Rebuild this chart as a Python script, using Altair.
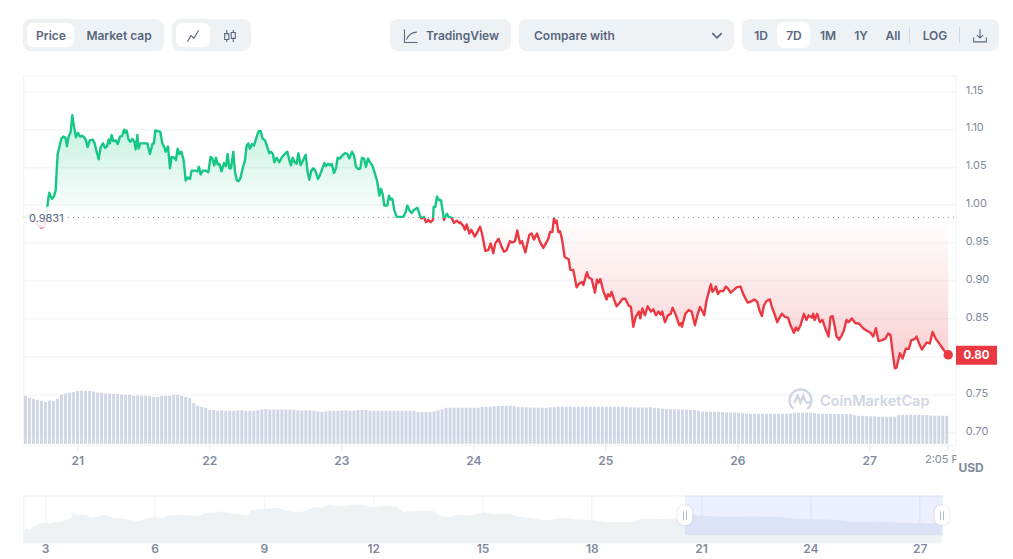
import altair as alt
import pandas as pd

# ---------- price series: hours since day 21 00:00, and price in USD ----------
hours_a = [-9.69,-8.9,-8.0,-7.39,-6.66,-6.06,-5.69,-5.45,-5.27,-5.09,-4.85,-4.6,-4.24,-3.94,-3.75,-3.57,-3.27,-2.9,-2.54,-2.18,-1.88,-1.57,-1.21,-.91,-.6,-.24,.12,.49,.85,1.22,1.52,1.88,2.25,2.79,3.15,3.52,3.88,4.25,4.67,5.03,5.4,5.7,5.94,6.25,6.55,6.97,7.34,7.76,8.18,8.49,8.73,8.97,9.28,9.64,10.0,10.37,10.61,10.91,11.15,11.46,11.82,12.24,12.73,13.21,13.7,13.94,14.18,14.67,15.09,15.46,15.82,16.06,16.49,16.85,17.15,17.64,17.94,18.24,18.55,18.91,19.33,19.7,20.06,20.49,20.79,21.4,21.82,22.12,22.43,22.79,23.27,23.82,24.24,24.55,24.91,25.21,25.52,25.82,26.24,26.67,27.03,27.33,27.64,27.94,28.36,28.67,29.03,29.33,29.7,30.06,30.49,30.79,31.09,31.39,31.76,32.12,32.49]
prices_a = [.983,.985,.984,.975,.970,.971,.979,.997,1.008,1.016,1.011,1.008,1.011,1.019,1.045,1.067,1.076,1.087,1.09,1.089,1.077,1.09,1.096,1.118,1.103,1.089,1.095,1.09,1.091,1.089,1.086,1.076,1.085,1.086,1.081,1.070,1.06,1.076,1.081,1.075,1.077,1.086,1.081,1.092,1.084,1.085,1.08,1.09,1.091,1.099,1.095,1.098,1.087,1.083,1.087,1.083,1.073,1.092,1.074,1.081,1.081,1.081,1.081,1.067,1.081,1.081,1.098,1.097,1.096,1.081,1.076,1.070,1.077,1.048,1.063,1.062,1.059,1.074,1.067,1.070,1.059,1.032,1.036,1.034,1.045,1.045,1.044,1.05,1.040,1.045,1.045,1.043,1.063,1.061,1.052,1.062,1.053,1.054,1.044,1.055,1.051,1.067,1.048,1.048,1.070,1.043,1.032,1.031,1.036,1.048,1.059,1.078,1.081,1.074,1.080,1.078,1.087]
hours_b = [32.97,33.34,33.7,34.13,34.55,34.91,35.22,35.58,35.82,36.25,36.73,37.22,37.76,38.19,38.55,38.85,39.15,39.52,39.88,40.19,40.61,41.09,41.52,41.88,42.18,42.55,42.91,43.28,43.76,44.12,44.61,44.91,45.21,45.58,45.94,46.25,46.67,47.03,47.34,47.76,48.18,48.67,49.09,49.46,49.94,50.31,50.67,51.09,51.46,51.76,52.12,52.49,52.85,53.21,53.64,54.12,54.55,54.91,55.21,55.52,55.82,56.37,56.67,56.97,57.27,57.64,58.06,58.67,59.27,59.7,60.0,60.36,60.79,61.21,61.82,62.12,62.49,63.03,63.39,63.82,64.24,64.67,64.79,65.09,65.39,65.76,66.12,66.67,66.91,67.21,67.52,68.06,68.49,68.97,69.45]
prices_b = [1.097,1.097,1.087,1.085,1.076,1.068,1.070,1.067,1.056,1.062,1.056,1.063,1.067,1.070,1.059,1.052,1.062,1.056,1.054,1.068,1.052,1.059,1.066,1.043,1.033,1.045,1.048,1.045,1.034,1.039,1.049,1.055,1.051,1.054,1.052,1.054,1.042,1.048,1.062,1.061,1.065,1.068,1.067,1.061,1.070,1.065,1.050,1.047,1.048,1.062,1.061,1.050,1.061,1.056,1.052,1.041,1.030,1.012,1.021,1.014,.999,.999,1.012,1.007,1.008,.993,.984,.984,.984,.990,.999,.993,.989,.993,.996,.990,.982,.984,.977,.980,.977,.980,.997,.997,1.011,1.006,1.006,.980,.984,.988,.984,.983,.976,.979,.976]
hours_c = [69.58,70.19,70.49,70.79,71.28,71.64,72.25,72.61,73.22,73.58,74.19,74.73,75.16,75.64,76.0,76.61,77.16,77.58,78.06,78.67,79.03,79.58,80.0,80.49,80.85,81.46,82.18,82.61,83.03,83.58,84.12,84.73,85.64,85.94,86.37,86.67,86.91,87.15,87.46,87.76,88.12,88.61,89.34,89.64,90.18,90.79,91.27,91.76,92.0,92.67,92.97,93.52,94.12,94.49,94.79,95.09,95.64,96.24,96.49,96.85,97.15,97.64,98.06,98.55,99.15,99.64,100.24,100.67,101.09,101.52,102.12,102.36,102.73,103.21,103.7,104.3,104.73,105.21,105.64,106.06,106.36,106.85,107.39,107.88,108.24,108.85,109.45,109.82,109.94,110.55,111.15,111.7,112.3,112.73,113.21]
prices_c = [.977,.972,.967,.974,.962,.967,.958,.962,.971,.962,.939,.940,.949,.936,.949,.955,.944,.938,.940,.952,.950,.952,.966,.949,.952,.937,.960,.962,.954,.962,.951,.943,.955,.964,.964,.982,.976,.979,.964,.965,.955,.931,.928,.914,.914,.891,.896,.898,.894,.911,.904,.902,.884,.901,.897,.902,.886,.875,.882,.879,.885,.874,.866,.870,.876,.876,.867,.865,.839,.852,.859,.850,.863,.854,.866,.859,.862,.854,.859,.855,.859,.845,.854,.856,.864,.854,.841,.844,.839,.856,.861,.859,.841,.854,.865]
hours_d = [113.56,113.99,114.41,114.9,115.2,115.5,115.93,116.11,116.47,116.84,117.44,117.93,118.35,118.78,119.26,119.87,120.59,121.08,121.87,122.41,123.08,123.62,124.11,124.47,124.84,125.32,125.93,126.29,126.77,127.26,127.62,128.11,128.65,129.2,129.68,130.29,130.65,131.02,131.5,132.11,132.59,132.96,133.56,133.8,134.05,134.53,135.02,135.5,135.99,136.59,136.96,137.32,137.68,138.05,138.53,139.02,139.38,139.86,140.23,140.83,141.44,142.17,142.89,143.5,144.23,144.71,145.2,145.68,146.17,146.89,147.44,147.86,148.35,148.65,148.95,149.56,150.04,150.65,151.2,151.62,152.29,152.59,152.95,153.56,154.41,155.01,155.5,156.1,156.71,157.19,157.56,158.35]
prices_d = [.861,.854,.874,.887,.895,.885,.889,.892,.882,.886,.886,.892,.889,.884,.887,.891,.892,.882,.871,.872,.875,.872,.859,.853,.867,.873,.875,.865,.856,.845,.850,.856,.852,.851,.841,.831,.838,.834,.841,.856,.848,.854,.851,.856,.848,.856,.845,.848,.837,.826,.852,.853,.841,.826,.822,.828,.834,.848,.845,.850,.844,.843,.837,.834,.831,.826,.837,.820,.821,.823,.830,.828,.799,.784,.785,.804,.797,.810,.810,.821,.823,.826,.819,.809,.818,.817,.832,.823,.817,.812,.808,.802]

# ---------- volume bars (same hours axis, regular step) ----------
vol_start = -9.42
vol_step = 0.7283
volumes = [48,46,45,44,43,42,43.3,43,45,49,50.3,51,51.7,53,53,53,53,52.3,51.3,51,50.3,50,50,50,49.3,49,49,48,48.3,48,48,47.7,47,47,48,48,48,49,49,48,47,45.7,40.7,38,37,36,34,33.7,33,
 33.3,33,33,33,33.3,33.5,33,33,33,33.5,34.3,34.7,
 34.3,34.3,34.3,34.3,34.3,34.3,34,33.3,33.3,33.5,33.5,33,32.3,32,32.5,33,33,33,33.3,33.3,33,33.3,33.7,34,34,
 33,33,33,33,33,33,33,33,33,33,33,33,31.7,31.7,31.7,31.7,32.3,33.3,34.5,36,36,36,36,36,36,36,36,36,37,37,
 37.3,37.5,38,38,38,38,37.5,37,36.7,36.5,36.3,36,36,36,36,
 36.5,36.7,37,37,37,37,37,37,37,37,37,37,37,37,37,37,37,37,37,36.7,36.5,36.5,36.3,
 36.3,36.3,36.5,36,35.5,35,34.7,34.7,34.5,34.5,34.3,34,
 34,34,33,32.3,32,32,32,32,31.7,31.5,
 31.3,31.3,31,30.7,30.3,30,30,30,30,30,30,30,30,30,30,
 30.3,31,31,31,31,31,30.8,30,
 30,30,30,29.8,29.7,29.7,29.7,29.7,
 28.5,28,28,27.7,27.5,27.3,27,27,27,27,27,28.5,
 29,29,29,29,29,28.7,28.7,28.3,28,28,28,28]

# ---------- navigator: day of month and price ----------
nav_days = [2.40,2.49,2.58,2.67,2.76,2.85,2.95,3.04,3.13,3.27,3.40,3.59,3.70,3.77,3.86,4.00,4.13,4.27,4.41,4.59,4.73,4.91,5.14,5.37,5.55,5.78,6.01,6.24,6.42,6.70,6.97,7.25,7.38,7.61,7.79,7.98,8.25,8.57,8.64,8.98,9.35,9.53,9.81,10.08,10.40,10.58,10.77,11.0,11.27,11.55,11.82,12.0,12.37,12.64,12.83,12.96,13.10,13.28,13.65,13.83,14.11,14.34,14.56,14.79,15.02,15.30,15.48,15.75,16.03,16.39,16.76,17.22,17.68,18.04,18.41,19.14,19.41,19.87,20.33,20.51,20.79,21.34,21.88,22.43,23.07,23.71,24.63,25.18,25.82,26.46,27.0,27.60]
nav_prices = [.515,.579,.515,.670,.709,.800,.826,.826,.774,.839,.839,.930,.969,1.215,1.111,1.137,1.124,1.007,1.033,1.111,1.085,.981,.969,.904,.865,.981,1.020,.981,1.098,1.124,1.098,1.085,1.189,1.202,1.254,1.189,1.163,1.098,1.306,1.345,1.397,1.319,1.241,1.241,1.422,1.397,1.513,1.448,1.474,1.526,1.474,1.422,1.487,1.422,1.228,1.267,1.228,1.293,1.267,1.085,1.033,1.137,1.085,1.137,1.215,1.150,1.163,1.163,1.033,.969,.904,1.007,.930,.904,.839,.839,.969,.956,.969,1.098,1.098,1.059,1.033,1.059,1.033,.943,.930,.839,.852,.813,.800,.774]

base_price = 0.9831
y_ticks = [0.70,0.75,0.80,0.85,0.90,0.95,1.00,1.05,1.10,1.15]
day_ticks = [0,24,48,72,96,120,144,158.1]
nav_ticks = [3,6,9,12,15,18,21,24,27]

GREEN, RED = "#16c784", "#ea3943"
GRID, LABEL, TEXT, PILL = "#eff2f5", "#808a9d", "#58667e", "#eff2f5"
FONT = "Inter"

hours = hours_a + hours_b + hours_c + hours_d
prices = prices_a + prices_b + prices_c + prices_d
price_df = pd.DataFrame({"h": hours, "p": prices, "base": base_price})
vol_df = pd.DataFrame({"h": [vol_start + vol_step * i for i in range(len(volumes))], "v": volumes})
nav_df = pd.DataFrame({"d": nav_days, "p": nav_prices})
one = pd.DataFrame({"k": [0]})

# main plot sits at page px (23.3, 75.5)
OFFX, OFFY = 1.0, 1.0      # the page puts everything this far in beyond the plain margin
MX, MY = 23.3, 75.5
MW, MH = 932.4, 369.5
x_scale = alt.Scale(domain=[-9.82, 159.71], nice=False, zero=False, padding=0)
y_scale = alt.Scale(domain=[0.6832, 1.1708], nice=False, zero=False)
v_scale = alt.Scale(domain=[-1, 368.5], nice=False, zero=False)

top, bot = max(prices), min(prices)
cut = (top - base_price) / (top - bot)
line_grad = alt.Gradient(gradient="linear", x1=0, x2=0, y1=0, y2=1, stops=[
    alt.GradientStop(color=GREEN, offset=0), alt.GradientStop(color=GREEN, offset=cut),
    alt.GradientStop(color=RED, offset=cut), alt.GradientStop(color=RED, offset=1)])
area_grad = alt.Gradient(gradient="linear", x1=0, x2=0, y1=0, y2=1, stops=[
    alt.GradientStop(color="rgba(22,199,132,0.27)", offset=0),
    alt.GradientStop(color="rgba(22,199,132,0)", offset=cut),
    alt.GradientStop(color="rgba(234,57,67,0)", offset=cut),
    alt.GradientStop(color="rgba(234,57,67,0.25)", offset=1)])

X = alt.X("h:Q", scale=x_scale, title=None, axis=alt.Axis(
    values=day_ticks, grid=False, domain=False, tickColor="#dfe3ea", tickSize=5, labelPadding=6,
    labelExpr="datum.value > 150 ? '' : format(21 + datum.value / 24, 'd')",
    labelColor=LABEL, labelFont=FONT, labelFontSize=12, labelFontWeight=600, labelOverlap=False))
Y_price = alt.Y("p:Q", scale=y_scale, title=None, axis=alt.Axis(
    orient="right", values=y_ticks, grid=True, gridColor=GRID, domain=False,
    labelExpr="abs(datum.value - 0.8) < 0.001 ? '' : format(datum.value, '.2f')",
    ticks=False, labelPadding=9.5, labelOffset=-1, labelColor=LABEL, labelFont=FONT, labelFontSize=11, labelOverlap=False))
Y_plain = alt.Y("p:Q", scale=y_scale, title=None, axis=None)

def vx(px): return alt.value(px - MX)
def vy(py): return alt.value(py - MY)

def rect_m(x0, x1, y0, y1, color, radius=0, opacity=1):
    return alt.Chart(one).mark_rect(color=color, cornerRadius=radius, opacity=opacity).encode(
        x=vx(x0), x2=vx(x1), y=vy(y0), y2=vy(y1))

def text_m(s, x, y, size=12, color=LABEL, weight=400, align="left"):
    return alt.Chart(one).mark_text(font=FONT, fontSize=size, color=color, fontWeight=weight,
                                    align=align, baseline="middle").encode(
        x=vx(x), y=vy(y), text=alt.value(s))

bars = alt.Chart(vol_df).mark_bar(size=3, color="#cfd6e4").encode(
    x=X, y=alt.Y("v:Q", scale=v_scale, title=None, axis=None), y2=alt.Y2(datum=0))
area = alt.Chart(price_df).mark_area(color=area_grad).encode(x=X, y=Y_price, y2=alt.Y2("base:Q"))
dots = alt.Chart(pd.DataFrame({"y": [base_price]})).mark_rule(
    color="#8a94a6", strokeDash=[1, 4], strokeWidth=1).encode(
    x=vx(68), x2=vx(955.7), y=alt.Y("y:Q", scale=y_scale, title=None, axis=None))
line = alt.Chart(price_df).mark_line(color=line_grad, strokeWidth=2.4, strokeJoin="round").encode(
    x=X, y=Y_plain)
end_dot = alt.Chart(price_df.tail(1)).mark_circle(color=RED, size=90, opacity=1).encode(
    x=X, y=Y_plain)

LOGO = ("M-0.62,0.8 A1,1 0 1,1 0.62,0.8 "
        "M-0.6,0.25 L-0.25,-0.42 L0,0.2 L0.25,-0.42 L0.45,0.1 Q0.55,0.35 0.95,0.12")
logo = alt.Chart(one).mark_point(shape=LOGO, filled=False, color="#cfd6e4", size=480, strokeWidth=2.4, opacity=1).encode(
    x=vx(800.5), y=vy(400.5))

main = alt.layer(
    bars, area, dots, line, end_dot,
    rect_m(24, 68, 207, 228, "white", 4, 0.88),
    text_m("0.9831", 29, 219, 11, TEXT, 400),
    logo,
    text_m("CoinMarketCap", 820, 402, 14.5, "#cfd6e4", 600),
    rect_m(956, 997, 346, 365, RED),
    text_m("0.80", 976.5, 356, 11.5, "white", 700, "center"),
    text_m("2:05 P", 925, 460, 11, LABEL, 400),
    rect_m(956.5, 963, 452, 467, "white"),
    text_m("USD", 958.5, 468.5, 12, LABEL, 700),
).resolve_scale(y="independent").properties(width=MW, height=MH, view=alt.ViewConfig(stroke=GRID))

# ---------- toolbar (page px) ----------
TX, TY = 23.3, 8 + OFFY
SPACING = 50.3

def tr(x0, x1, y0, y1, color, radius=8):
    return alt.Chart(one).mark_rect(color=color, cornerRadius=radius).encode(
        x=alt.value(x0 - TX), x2=alt.value(x1 - TX), y=alt.value(y0 - TY), y2=alt.value(y1 - TY))

def tt(s, x, y=35.5, align="center", size=12):
    return alt.Chart(one).mark_text(font=FONT, fontSize=size, color=TEXT, fontWeight=600,
                                    align=align, baseline="middle").encode(
        x=alt.value(x - TX), y=alt.value(y - TY), text=alt.value(s))

def icon(path, x, y, size, width=1.1, color=TEXT):
    return alt.Chart(one).mark_point(shape=path, filled=False, color=color, size=size, strokeWidth=width, opacity=1).encode(
        x=alt.value(x - TX), y=alt.value(y - TY))

def vr(x, y0, y1):
    return alt.Chart(one).mark_rule(color="#cfd6e4", strokeWidth=1).encode(
        x=alt.value(x - TX), y=alt.value(y0 - TY), y2=alt.value(y1 - TY))

toolbar = alt.layer(
    tr(23, 164, 19, 51, PILL), tr(27, 74, 23, 47, "white", 6), tt("Price", 51), tt("Market cap", 119),
    tr(172, 251, 19, 51, PILL), tr(176, 210, 23, 47, "white", 6),
    icon("M-1,1 L-0.35,-0.05 L0.15,0.4 L1,-1", 193, 36, 130),
    icon("M-0.55,-1 L-0.55,-0.4 M-0.55,0.6 L-0.55,1 M0.55,-1 L0.55,-0.6 M0.55,0.4 L0.55,1 "
         "M-0.9,-0.4 L-0.2,-0.4 L-0.2,0.6 L-0.9,0.6 Z M0.2,-0.6 L0.9,-0.6 L0.9,0.4 L0.2,0.4 Z", 230, 36, 140),
    tr(390, 511, 19, 51, PILL),
    icon("M-1,-1 L-1,1 L1,1 M-0.7,0.55 Q-0.2,-0.6 0.9,-0.6", 411, 36, 170),
    tt("TradingView", 426, align="left"),
    tr(519, 734, 19, 51, PILL), tt("Compare with", 534, align="left"),
    icon("M-1,-0.5 L0,0.5 L1,-0.5", 717, 35.5, 90, 1.5),
    tr(742, 999, 19, 51, PILL), tr(777, 810, 22, 48, "white", 6),
    tt("1D", 761), tt("7D", 794), tt("1M", 828), tt("1Y", 861), tt("All", 893), tt("LOG", 935),
    vr(909.5, 27, 43), vr(959.5, 27, 43),
    icon("M0,-1 L0,0.4 M-0.5,-0.05 L0,0.4 L0.5,-0.05 M-1,0.3 L-1,1 L1,1 L1,0.3", 980, 35.5, 160),
).properties(width=975, height=MY - TY - SPACING - 1, view=alt.ViewConfig(stroke="transparent"))

# ---------- navigator (page px, origin 23.3, 495.3) ----------
NX, NY = 23.3, 495.3
NW, NH = 918.7, 39.7
n_x = alt.Scale(domain=[2.40, 27.61], nice=False, zero=False)
n_y = alt.Scale(domain=[0.32, 1.865], nice=False, zero=False)

nav_area = alt.Chart(nav_df).mark_area(color="#eff2f5", opacity=1).encode(
    x=alt.X("d:Q", scale=n_x, title=None, axis=alt.Axis(
        values=nav_ticks, format="d", grid=True, gridColor=GRID, domain=False, ticks=False, labelPadding=8,
        labelColor=LABEL, labelFont=FONT, labelFontSize=12, labelFontWeight=600, labelOverlap=False)),
    y=alt.Y("p:Q", scale=n_y, title=None, axis=None))

def nr(x0, x1, y0, y1, color, radius=0, opacity=1):
    return alt.Chart(one).mark_rect(color=color, cornerRadius=radius, opacity=opacity).encode(
        x=alt.value(x0 - NX), x2=alt.value(x1 - NX), y=alt.value(y0 - NY), y2=alt.value(y1 - NY))

def handle(cx):
    return [nr(cx - 8.5, cx + 8.5, 504, 526, "#58667e", 7, 0.07),
            nr(cx - 7.2, cx + 7.2, 505.5, 524.5, "white", 6),
            nr(cx - 1.9, cx - 1.0, 511, 520, "#a6b0c3"),
            nr(cx + 1.0, cx + 1.9, 511, 520, "#a6b0c3")]

nav = alt.layer(
    nav_area,
    nr(685, 942, 495.3, 535, "#3861fb", 0, 0.1),
    *handle(685), *handle(942),
).properties(width=NW, height=NH, view=alt.ViewConfig(stroke=GRID))

chart = alt.VConcatChart(vconcat=[toolbar, main, nav], spacing=SPACING, bounds="flush").properties(
    padding={"left": 15.3 - OFFX, "top": 0, "right": 0, "bottom": 0})

chart.save("out.html", embed_options={"renderer": "svg", "actions": False})
